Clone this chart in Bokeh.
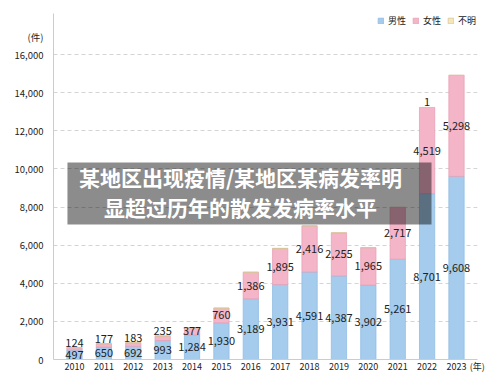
from bokeh.plotting import figure
from bokeh.models import ColumnDataSource, FixedTicker, NumeralTickFormatter, Label, BoxAnnotation
from bokeh.core.properties import value
from bokeh.embed import file_html
from bokeh.resources import INLINE

# ---- data ----
years = [2010, 2011, 2012, 2013, 2014, 2015, 2016, 2017, 2018, 2019, 2020, 2021, 2022, 2023]
male = [497, 650, 692, 993, 1284, 1930, 3189, 3931, 4591, 4387, 3902, 5261, 8701, 9608]
female = [124, 177, 183, 235, 377, 760, 1386, 1895, 2416, 2255, 1965, 2717, 4519, 5298]
unknown = [0, 0, 0, 0, 0, 0, 0, 0, 0, 0, 0, 0, 1, 0]
series_names = ["男性", "女性", "不明"]
y_ticks = [0, 2000, 4000, 6000, 8000, 10000, 12000, 14000, 16000]
title_lines = ["某地区出现疫情/某地区某病发率明", "显超过历年的散发发病率水平"]
y_unit = "(件)"
x_unit = "(年)"

# ---- layout / style ----
Y_UNIT_POS = 16892      # where the "(件)" caption sits on the y axis
X_UNIT_POS = 2023.705   # where the "(年)" caption sits on the x axis
fills = ["#a5ccec", "#f4b5c8", "#f6e8b6"]
edges = ["#8fbde3", "#e6a2b6", "#d8c79a"]
font = "Noto Sans CJK SC"
txt_color = "#222222"

src = ColumnDataSource(dict(year=years, male=male, female=female, unknown=unknown))

p = figure(width=500, height=387, x_range=(2009.285, 2023.715), y_range=(0, 18151),
           output_backend="svg", toolbar_location=None,
           min_border_left=53, min_border_right=23, min_border_top=13, min_border_bottom=28)
p.outline_line_color = None
p.background_fill_color = "white"

p.vbar_stack(["male", "female", "unknown"], x="year", width=0.52, source=src,
             fill_color=fills, line_color=edges, line_width=0.8,
             legend_label=series_names)

# axes
p.xaxis.ticker = FixedTicker(ticks=years + [X_UNIT_POS])
p.xaxis.major_label_overrides = {X_UNIT_POS: x_unit}
p.yaxis.ticker = FixedTicker(ticks=y_ticks + [Y_UNIT_POS])
p.yaxis.formatter = NumeralTickFormatter(format="0,0")
p.yaxis.major_label_overrides = {Y_UNIT_POS: y_unit}
for ax in (p.xaxis, p.yaxis):
    ax.axis_line_color = "#cccccc"
    ax.major_tick_line_color = None
    ax.minor_tick_line_color = None
    ax.major_label_text_font = font
    ax.major_label_text_color = txt_color
p.xaxis.major_label_text_font_size = "9px"
p.yaxis.major_label_text_font_size = "9.5px"
p.xaxis.major_label_standoff = -6
p.yaxis.major_label_standoff = 4
p.xgrid.grid_line_color = None
p.ygrid.ticker = FixedTicker(ticks=y_ticks)
p.ygrid.grid_line_color = "#d4d4d4"
p.ygrid.grid_line_dash = "4 3"

# value labels
m_x, m_y, m_t = [], [], []
c_x, c_y, c_t = [], [], []
a_x, a_y, a_t = [], [], []
for yr, m, f, u in zip(years, male, female, unknown):
    m_x.append(yr); m_y.append(m / 2); m_t.append(f"{m:,}")
    if f >= 300:
        c_x.append(yr); c_y.append(m + f / 2); c_t.append(f"{f:,}")
    else:
        a_x.append(yr); a_y.append(m + f + u); a_t.append(f"{f:,}")
    if u > 0:
        a_x.append(yr); a_y.append(m + f + u); a_t.append(f"{u:,}")

common = dict(text_font=value(font), text_font_size="11px", text_color=txt_color,
              text_align="center")
p.text(x=m_x, y=m_y, text=m_t, text_baseline="middle", **common)
p.text(x=c_x, y=c_y, text=c_t, text_baseline="middle", **common)
p.text(x=a_x, y=a_y, text=a_t, text_baseline="bottom", y_offset=-1, **common)

# legend
lg = p.legend[0]
lg.orientation = "horizontal"
lg.location = "top_right"
lg.glyph_width = 7
lg.glyph_height = 7
lg.label_text_font = font
lg.label_text_font_size = "9px"
lg.label_text_color = txt_color
lg.label_standoff = 4
lg.spacing = 6
lg.padding = 0
lg.margin = 1
lg.label_height = 8
lg.label_width = 10
lg.border_line_color = None
lg.background_fill_alpha = 0

# overlay banner
p.add_layout(BoxAnnotation(left=2009.76, right=2022.15, bottom=7082, top=10334,
                           fill_color="black", fill_alpha=0.45, line_color=None))
for ty, line in zip([9548, 7974], title_lines):
    p.add_layout(Label(x=2015.65, y=ty, text=line, text_font=font, text_font_size="21px",
                       text_font_style="bold", text_color="white",
                       text_align="center", text_baseline="middle"))

open("out.html", "w").write(file_html(p, INLINE))
